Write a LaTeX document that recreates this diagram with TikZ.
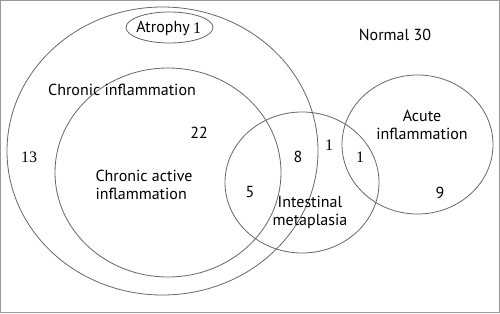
\documentclass[tikz,border=0pt]{standalone}
\usepackage{fontspec}
\setmainfont{PT Sans}
\newfontfamily\numfont{Liberation Serif}
\usetikzlibrary{positioning}
\definecolor{rim}{HTML}{666666}
\definecolor{frame}{HTML}{9A9A9A}

\begin{document}
\begin{tikzpicture}[x=1pt,y=-1pt,font=\fontsize{16}{18}\selectfont,
    set/.style={draw=rim,line width=0.8pt},
    lbl/.style={inner sep=0pt,align=center},
    num/.style={inner sep=0pt,font=\fontsize{16}{18}\selectfont\numfont}]
  \useasboundingbox (0,0) rectangle (500,313);
  \draw[frame,line width=1.4pt] (0.7,0.7) rectangle (499.3,312.3);

  % sets
  \draw[set] (162.5,151) ellipse [x radius=155.5pt, y radius=144pt];
  \draw[set] (168,172.5) ellipse [x radius=113pt, y radius=104.5pt];
  \draw[set] (302,182.5) ellipse [x radius=77pt, y radius=70.5pt];
  \draw[set] (417.5,144.5) ellipse [x radius=75.5pt, y radius=69.5pt];
  \draw[set] (169.5,27.5) ellipse [x radius=43.5pt, y radius=15.5pt];

  % labels
  \node[lbl] (atrophy) at (163,28) {Atrophy};
  \node[num,right=3pt of atrophy] (atrophyN) {1};
  \node[lbl] (normal) at (395,35) {Normal 30};
  \node[lbl] (chronic) at (122,90) {Chronic inflammation};
  \node[lbl] (chronicN) at (199,133) {22};
  \node[num] (outerN) at (29,157) {13};
  \node[lbl,align=left] (active) at (144,185) {Chronic active\\inflammation};
  \node[lbl] (activeN) at (250,192) {5};
  \node[lbl] (meetN) at (298,157) {8};
  \node[num] (gapN) at (329,145) {1};
  \node[num] (acuteIM) at (360,157) {1};
  \node[lbl] (intestinal) at (310,212) {Intestinal\\metaplasia};
  \node[lbl] (acute) at (422,125) {Acute\\inflammation};
  \node[lbl] (acuteN) at (440,193) {9};
\end{tikzpicture}
\end{document}
